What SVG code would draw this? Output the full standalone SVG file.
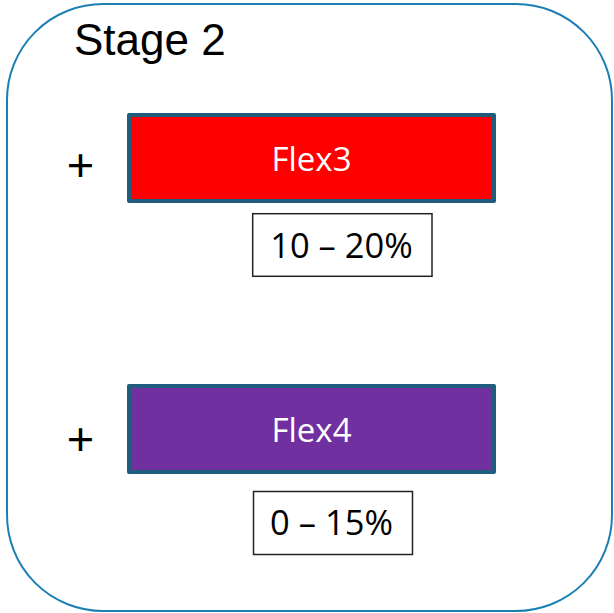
<svg xmlns="http://www.w3.org/2000/svg" width="614" height="613" viewBox="0 0 614 613">
  <style>
    .frame { fill: #ffffff; stroke: #1c7fb4; stroke-width: 2; }
    .title { font-family: "Liberation Sans", Arial, sans-serif; font-size: 44px; fill: #000000; }
    .plus { font-family: "Liberation Sans", Arial, sans-serif; font-size: 47px; fill: #000000; text-anchor: middle; }
    .flex { stroke: #1f5c7d; stroke-width: 4; stroke-linejoin: round; }
    .flex-label { font-family: "Open Sans", "Noto Sans", sans-serif; font-size: 33px; fill: #ffffff; text-anchor: middle; }
    .range { fill: #ffffff; stroke: #222222; stroke-width: 1.5; }
    .range-label { font-family: "Open Sans", "Noto Sans", sans-serif; font-size: 34.5px; fill: #000000; text-anchor: middle; }
  </style>

  <!-- outer stage panel -->
  <g id="stage">
    <rect class="frame" x="7" y="4" width="605" height="607" rx="96" ry="96"/>
    <text class="title" x="74" y="55">Stage 2</text>
  </g>

  <g id="connectors"></g>

  <!-- Flex3 block with its range -->
  <g id="plus-flex3">
    <text class="plus" x="80.5" y="180.5">+</text>
  </g>
  <g id="flex3">
    <rect class="flex" x="129" y="115" width="365" height="86" fill="#ff0000"/>
    <text class="flex-label" x="311.5" y="171">Flex3</text>
  </g>
  <g id="range-flex3">
    <rect class="range" x="252.7" y="213.7" width="179.3" height="62.6"/>
    <text class="range-label" x="341.5" y="258">10 – 20%</text>
  </g>

  <!-- Flex4 block with its range -->
  <g id="plus-flex4">
    <text class="plus" x="80.5" y="454.5">+</text>
  </g>
  <g id="flex4">
    <rect class="flex" x="129" y="386" width="365" height="86" fill="#7030a0"/>
    <text class="flex-label" x="311.5" y="442">Flex4</text>
  </g>
  <g id="range-flex4">
    <rect class="range" x="253.5" y="491.5" width="159" height="63"/>
    <text class="range-label" x="331.5" y="535">0 – 15%</text>
  </g>
</svg>
